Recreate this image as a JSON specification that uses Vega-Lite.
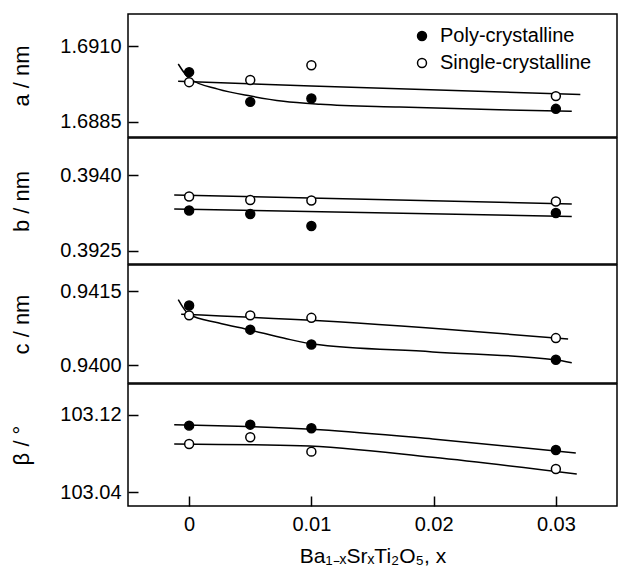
{
  "$schema": "https://vega.github.io/schema/vega-lite/v6.json",
  "padding": {"left": 10, "top": 13, "right": 1, "bottom": 0},
  "background": "white",
  "datasets": {
    "pts": [
      {"p": "a", "s": "Poly-crystalline", "x": 0, "v": 1.69014},
      {"p": "a", "s": "Poly-crystalline", "x": 0.005, "v": 1.68916},
      {"p": "a", "s": "Poly-crystalline", "x": 0.01, "v": 1.68927},
      {"p": "a", "s": "Poly-crystalline", "x": 0.03, "v": 1.68893},
      {"p": "a", "s": "Single-crystalline", "x": 0, "v": 1.68981},
      {"p": "a", "s": "Single-crystalline", "x": 0.005, "v": 1.68988},
      {"p": "a", "s": "Single-crystalline", "x": 0.01, "v": 1.69037},
      {"p": "a", "s": "Single-crystalline", "x": 0.03, "v": 1.68935},
      {"p": "b", "s": "Poly-crystalline", "x": 0, "v": 0.3933},
      {"p": "b", "s": "Poly-crystalline", "x": 0.005, "v": 0.39323},
      {"p": "b", "s": "Poly-crystalline", "x": 0.01, "v": 0.39299},
      {"p": "b", "s": "Poly-crystalline", "x": 0.03, "v": 0.39325},
      {"p": "b", "s": "Single-crystalline", "x": 0, "v": 0.39358},
      {"p": "b", "s": "Single-crystalline", "x": 0.005, "v": 0.39351},
      {"p": "b", "s": "Single-crystalline", "x": 0.01, "v": 0.3935},
      {"p": "b", "s": "Single-crystalline", "x": 0.03, "v": 0.39348},
      {"p": "c", "s": "Poly-crystalline", "x": 0, "v": 0.94121},
      {"p": "c", "s": "Poly-crystalline", "x": 0.005, "v": 0.94072},
      {"p": "c", "s": "Poly-crystalline", "x": 0.01, "v": 0.94042},
      {"p": "c", "s": "Poly-crystalline", "x": 0.03, "v": 0.94011},
      {"p": "c", "s": "Single-crystalline", "x": 0, "v": 0.94101},
      {"p": "c", "s": "Single-crystalline", "x": 0.005, "v": 0.94101},
      {"p": "c", "s": "Single-crystalline", "x": 0.01, "v": 0.94096},
      {"p": "c", "s": "Single-crystalline", "x": 0.03, "v": 0.94055},
      {"p": "beta", "s": "Poly-crystalline", "x": 0, "v": 103.1087},
      {"p": "beta", "s": "Poly-crystalline", "x": 0.005, "v": 103.1097},
      {"p": "beta", "s": "Poly-crystalline", "x": 0.01, "v": 103.106},
      {"p": "beta", "s": "Poly-crystalline", "x": 0.03, "v": 103.0836},
      {"p": "beta", "s": "Single-crystalline", "x": 0, "v": 103.0898},
      {"p": "beta", "s": "Single-crystalline", "x": 0.005, "v": 103.0967},
      {"p": "beta", "s": "Single-crystalline", "x": 0.01, "v": 103.0819},
      {"p": "beta", "s": "Single-crystalline", "x": 0.03, "v": 103.064}
    ],
    "fits": [
      {"p": "a", "s": "Single", "x": -0.0009, "v": 1.68984},
      {"p": "a", "s": "Single", "x": 0.01, "v": 1.68968},
      {"p": "a", "s": "Single", "x": 0.032, "v": 1.6894},
      {"p": "a", "s": "Poly", "x": -0.00089, "v": 1.69041},
      {"p": "a", "s": "Poly", "x": 0, "v": 1.68994},
      {"p": "a", "s": "Poly", "x": 0.00236, "v": 1.68958},
      {"p": "a", "s": "Poly", "x": 0.00504, "v": 1.68935},
      {"p": "a", "s": "Poly", "x": 0.00772, "v": 1.68918},
      {"p": "a", "s": "Poly", "x": 0.01073, "v": 1.68908},
      {"p": "a", "s": "Poly", "x": 0.01724, "v": 1.68899},
      {"p": "a", "s": "Poly", "x": 0.02537, "v": 1.6889},
      {"p": "a", "s": "Poly", "x": 0.0313, "v": 1.68885},
      {"p": "b", "s": "Single", "x": -0.00122, "v": 0.39361},
      {"p": "b", "s": "Single", "x": 0.0313, "v": 0.39343},
      {"p": "b", "s": "Poly", "x": -0.00122, "v": 0.39333},
      {"p": "b", "s": "Poly", "x": 0.0313, "v": 0.39318},
      {"p": "c", "s": "Single", "x": -0.00065, "v": 0.94103},
      {"p": "c", "s": "Single", "x": 0.0107, "v": 0.9409},
      {"p": "c", "s": "Single", "x": 0.031, "v": 0.94053},
      {"p": "c", "s": "Poly", "x": -0.00089, "v": 0.94133},
      {"p": "c", "s": "Poly", "x": 0, "v": 0.94103},
      {"p": "c", "s": "Poly", "x": 0.00236, "v": 0.94086},
      {"p": "c", "s": "Poly", "x": 0.00504, "v": 0.94071},
      {"p": "c", "s": "Poly", "x": 0.00772, "v": 0.94055},
      {"p": "c", "s": "Poly", "x": 0.01008, "v": 0.94043},
      {"p": "c", "s": "Poly", "x": 0.01992, "v": 0.94027},
      {"p": "c", "s": "Poly", "x": 0.0299, "v": 0.94011},
      {"p": "c", "s": "Poly", "x": 0.0313, "v": 0.94005},
      {"p": "beta", "s": "Poly", "x": -0.00122, "v": 103.1097},
      {"p": "beta", "s": "Poly", "x": 0.01073, "v": 103.1045},
      {"p": "beta", "s": "Poly", "x": 0.01992, "v": 103.095},
      {"p": "beta", "s": "Poly", "x": 0.03163, "v": 103.0805},
      {"p": "beta", "s": "Single", "x": -0.00122, "v": 103.0898},
      {"p": "beta", "s": "Single", "x": 0.0091, "v": 103.088},
      {"p": "beta", "s": "Single", "x": 0.01992, "v": 103.0761},
      {"p": "beta", "s": "Single", "x": 0.03171, "v": 103.0589}
    ]
  },
  "vconcat": [
    {
      "width": 489, "height": 123,
      "layer": [
        {
          "data": {"name": "fits"},
          "transform": [{"filter": "datum.p == 'a'"}],
          "mark": {"type": "line", "color": "black", "strokeWidth": 1.5, "interpolate": "monotone"},
          "encoding": {
            "x": {"field": "x", "type": "quantitative", "scale": {"domain": [-0.005, 0.035], "nice": false, "zero": false}, "axis": null},
            "y": {"field": "v", "type": "quantitative", "scale": {"domain": [1.688, 1.69206], "nice": false, "zero": false}, "axis": {"values": [1.6885, 1.691], "format": ".4f", "title": "a / nm"}},
            "detail": {"field": "s"}
          }
        },
        {
          "data": {"name": "pts"},
          "transform": [{"filter": "datum.p == 'a'"}],
          "mark": {"type": "point", "filled": true, "stroke": "black", "strokeWidth": 1.5, "size": 80, "opacity": 1},
          "encoding": {
            "x": {"field": "x", "type": "quantitative"},
            "y": {"field": "v", "type": "quantitative"},
            "fill": {"field": "s", "type": "nominal", "scale": {"domain": ["Poly-crystalline", "Single-crystalline"], "range": ["black", "white"]},
              "legend": {"orient": "none", "legendX": 284, "legendY": 12, "title": null, "labelFontSize": 20, "labelFont": "Liberation Sans", "labelColor": "black", "symbolSize": 80, "symbolType": "circle", "symbolStrokeColor": "black", "symbolStrokeWidth": 1.5, "rowPadding": 7, "labelOffset": 8}}
          }
        }
      ]
    },
    {
      "width": 489, "height": 126,
      "layer": [
        {
          "data": {"name": "fits"},
          "transform": [{"filter": "datum.p == 'b'"}],
          "mark": {"type": "line", "color": "black", "strokeWidth": 1.5, "interpolate": "monotone"},
          "encoding": {
            "x": {"field": "x", "type": "quantitative", "scale": {"domain": [-0.005, 0.035], "nice": false, "zero": false}, "axis": null},
            "y": {"field": "v", "type": "quantitative", "scale": {"domain": [0.39223, 0.39475], "nice": false, "zero": false}, "axis": {"values": [0.3925, 0.394], "format": ".4f", "title": "b / nm"}},
            "detail": {"field": "s"}
          }
        },
        {
          "data": {"name": "pts"},
          "transform": [{"filter": "datum.p == 'b'"}],
          "mark": {"type": "point", "filled": true, "stroke": "black", "strokeWidth": 1.5, "size": 80, "opacity": 1},
          "encoding": {
            "x": {"field": "x", "type": "quantitative"},
            "y": {"field": "v", "type": "quantitative"},
            "fill": {"field": "s", "type": "nominal", "scale": {"domain": ["Poly-crystalline", "Single-crystalline"], "range": ["black", "white"]}, "legend": null}
          }
        }
      ]
    },
    {
      "width": 489, "height": 118,
      "layer": [
        {
          "data": {"name": "fits"},
          "transform": [{"filter": "datum.p == 'c'"}],
          "mark": {"type": "line", "color": "black", "strokeWidth": 1.5, "interpolate": "monotone"},
          "encoding": {
            "x": {"field": "x", "type": "quantitative", "scale": {"domain": [-0.005, 0.035], "nice": false, "zero": false}, "axis": null},
            "y": {"field": "v", "type": "quantitative", "scale": {"domain": [0.93964, 0.94203], "nice": false, "zero": false}, "axis": {"values": [0.94, 0.9415], "format": ".4f", "title": "c / nm"}},
            "detail": {"field": "s"}
          }
        },
        {
          "data": {"name": "pts"},
          "transform": [{"filter": "datum.p == 'c'"}],
          "mark": {"type": "point", "filled": true, "stroke": "black", "strokeWidth": 1.5, "size": 80, "opacity": 1},
          "encoding": {
            "x": {"field": "x", "type": "quantitative"},
            "y": {"field": "v", "type": "quantitative"},
            "fill": {"field": "s", "type": "nominal", "scale": {"domain": ["Poly-crystalline", "Single-crystalline"], "range": ["black", "white"]}, "legend": null}
          }
        }
      ]
    },
    {
      "width": 489, "height": 122,
      "layer": [
        {
          "data": {"name": "fits"},
          "transform": [{"filter": "datum.p == 'beta'"}],
          "mark": {"type": "line", "color": "black", "strokeWidth": 1.5, "interpolate": "monotone"},
          "encoding": {
            "x": {"field": "x", "type": "quantitative", "scale": {"domain": [-0.005, 0.035], "nice": false, "zero": false},
              "axis": {"values": [0, 0.01, 0.02, 0.03], "format": "~g", "title": "Ba₁₋ₓSrₓTi₂O₅, x", "labelPadding": 18, "titlePadding": 11, "titleFontSize": 21}},
            "y": {"field": "v", "type": "quantitative", "scale": {"domain": [103.0259, 103.1516], "nice": false, "zero": false}, "axis": {"values": [103.04, 103.12], "format": ".2f", "title": "β / °"}},
            "detail": {"field": "s"}
          }
        },
        {
          "data": {"name": "pts"},
          "transform": [{"filter": "datum.p == 'beta'"}],
          "mark": {"type": "point", "filled": true, "stroke": "black", "strokeWidth": 1.5, "size": 80, "opacity": 1},
          "encoding": {
            "x": {"field": "x", "type": "quantitative"},
            "y": {"field": "v", "type": "quantitative"},
            "fill": {"field": "s", "type": "nominal", "scale": {"domain": ["Poly-crystalline", "Single-crystalline"], "range": ["black", "white"]}, "legend": null}
          }
        }
      ]
    }
  ],
  "resolve": {"legend": {"fill": "independent"}},
  "config": {
    "concat": {"spacing": -3.5},
    "view": {"stroke": "black", "strokeWidth": 1.5},
    "axis": {
      "labelFont": "Liberation Sans", "labelFontSize": 20, "labelColor": "black",
      "titleFont": "Liberation Sans", "titleFontSize": 22, "titleFontWeight": "normal", "titleColor": "black",
      "ticks": true, "tickColor": "black", "tickOpacity": 1, "tickWidth": 1.5, "tickSize": -10, "domain": false, "grid": false,
      "labelPadding": 17, "titlePadding": 26, "zindex": 1
    }
  }
}
